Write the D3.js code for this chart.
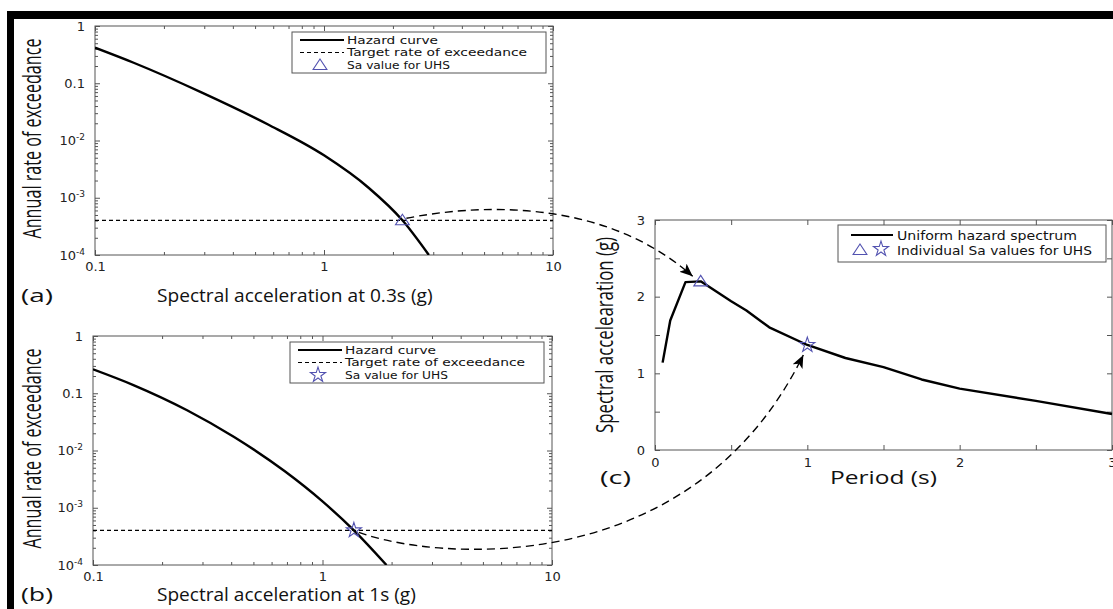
<!DOCTYPE html>
<html><head><meta charset="utf-8">
<script src="https://cdn.jsdelivr.net/npm/d3@7"></script>
<style>body{margin:0;background:#fff}svg{display:block}</style>
</head><body>
<svg id="chart" width="1113" height="609"></svg>
<script>
// ---- data ----
const saAt03 = [0.1, 0.1475, 0.29, 0.57, 1.0, 1.57, 2.2, 2.87];
const rateAt03 = [0.418, 0.228, 0.070, 0.019, 0.0055, 0.00148, 4.04e-4, 1e-4];
const saAt1 = [0.1, 0.15, 0.257, 0.412, 0.683, 1.0, 1.37, 1.9];
const rateAt1 = [0.262, 0.139, 0.0505, 0.0172, 0.00437, 0.00129, 4.04e-4, 1e-4];
const targetRate = 4.04e-4;
const uhsSa03 = 2.2, uhsSa1 = 1.37;
const uhsPeriod = [0.05, 0.1, 0.2, 0.3, 0.4, 0.5, 0.6, 0.75, 1.0, 1.25, 1.5, 1.75, 2.0, 2.5, 3.0];
const uhsSa = [1.14, 1.69, 2.19, 2.2, 2.07, 1.94, 1.82, 1.6, 1.37, 1.2, 1.08, 0.92, 0.8, 0.64, 0.47];
const logXTicks = [0.1, 1, 10];
const logXTickLabels = ["0.1", "1", "10"];
const logYTicks = [1e-4, 1e-3, 1e-2, 0.1, 1];
const logYTickLabels = [["10","-4"], ["10","-3"], ["10","-2"], ["0.1"], ["1"]];
const periodTicks = [0, 1, 2, 3];
const saTicks = [0, 1, 2, 3];
const legendAB = ["Hazard curve", "Target rate of exceedance", "Sa value for UHS"];
const legendC = ["Uniform hazard spectrum", "Individual Sa values for UHS"];

const svg = d3.select("#chart");
const AX = "#555", BLUE = "#5252b0";
const TICKFONT = "'DejaVu Sans', Verdana, sans-serif";
const LABFONT = "'Open Sans', 'DejaVu Sans', sans-serif";
const NARROW = "'Liberation Sans Narrow', 'Open Sans', sans-serif";
const legLenAB = [91, 180, 103];
const legLenC = [180, 195];

// black frame edges
svg.append("rect").attr("x", 7).attr("y", 11).attr("width", 1106).attr("height", 8).attr("fill", "#000");
svg.append("rect").attr("x", 7).attr("y", 11).attr("width", 7).attr("height", 598).attr("fill", "#000");

svg.append("defs").append("marker").attr("id", "ah")
  .attr("viewBox", "0 0 12 10").attr("refX", 12).attr("refY", 5)
  .attr("markerWidth", 13).attr("markerHeight", 11).attr("markerUnits", "userSpaceOnUse")
  .attr("orient", "auto")
  .append("path").attr("d", "M0,0 L12,5 L0,10 L3,5 Z").attr("fill", "#000");

function trianglePath(r) { return `M0,${-r} L${r*1.15},${r*0.75} L${-r*1.15},${r*0.75} Z`; }
const starPath = d3.symbol(d3.symbolStar, 70)();

function minorLog(lo, hi) {
  const out = [];
  for (let d = lo; d < hi * 0.999; d *= 10) for (let m = 2; m <= 9; m++) out.push(d * m);
  return out;
}

function hazardPanel(id, box, saArr, rateArr, markerType, xLabel, tag, labBase) {
  const {L, R, T, B} = box;
  const x = d3.scaleLog().domain([0.1, 10]).range([L, R]);
  const y = d3.scaleLog().domain([1e-4, 1]).range([B, T]);
  const g = svg.append("g");
  g.append("clipPath").attr("id", id).append("rect").attr("x", L).attr("y", T).attr("width", R - L).attr("height", B - T);
  g.append("rect").attr("x", L).attr("y", T).attr("width", R - L).attr("height", B - T).attr("fill", "#fff");

  const styleAxis = sel => { sel.select(".domain").remove(); sel.selectAll("line").attr("stroke", AX); };
  const minX = minorLog(0.1, 10), minY = minorLog(1e-4, 1);
  const bx = g.append("g").attr("transform", `translate(0,${B})`)
    .call(d3.axisBottom(x).tickValues(logXTicks).tickSize(-5).tickPadding(7).tickFormat((d, i) => logXTickLabels[i]));
  styleAxis(bx);
  bx.selectAll("text").attr("font-family", TICKFONT).attr("font-size", 13).attr("fill", "#222");
  styleAxis(g.append("g").attr("transform", `translate(0,${B})`).call(d3.axisBottom(x).tickValues(minX).tickSize(-3).tickFormat("")));
  styleAxis(g.append("g").attr("transform", `translate(0,${T})`).call(d3.axisTop(x).tickValues(logXTicks).tickSize(-5).tickFormat("")));
  styleAxis(g.append("g").attr("transform", `translate(0,${T})`).call(d3.axisTop(x).tickValues(minX).tickSize(-3).tickFormat("")));
  const ly = g.append("g").attr("transform", `translate(${L},0)`)
    .call(d3.axisLeft(y).tickValues(logYTicks).tickSize(-5).tickPadding(10).tickFormat(""));
  styleAxis(ly);
  ly.selectAll("text").each(function(d, i) {
    const t = d3.select(this).attr("font-family", TICKFONT).attr("font-size", 13).attr("fill", "#222");
    const lab = logYTickLabels[i];
    t.append("tspan").text(lab[0]);
    if (lab[1]) t.append("tspan").attr("dy", "-0.55em").attr("font-size", 9).text(lab[1]);
  });
  styleAxis(g.append("g").attr("transform", `translate(${L},0)`).call(d3.axisLeft(y).tickValues(minY).tickSize(-3).tickFormat("")));
  styleAxis(g.append("g").attr("transform", `translate(${R},0)`).call(d3.axisRight(y).tickValues(logYTicks).tickSize(-5).tickFormat("")));
  styleAxis(g.append("g").attr("transform", `translate(${R},0)`).call(d3.axisRight(y).tickValues(minY).tickSize(-3).tickFormat("")));
  g.append("rect").attr("x", L).attr("y", T).attr("width", R - L).attr("height", B - T)
    .attr("fill", "none").attr("stroke", AX).attr("stroke-width", 1);

  g.append("line").attr("x1", L).attr("x2", R).attr("y1", y(targetRate)).attr("y2", y(targetRate))
    .attr("stroke", "#000").attr("stroke-width", 1.2).attr("stroke-dasharray", "4,3");
  const pts = saArr.map((s, i) => [s, rateArr[i]]);
  g.append("path").datum(pts).attr("clip-path", `url(#${id})`)
    .attr("d", d3.line().x(d => x(d[0])).y(d => y(d[1])).curve(d3.curveMonotoneX))
    .attr("fill", "none").attr("stroke", "#000").attr("stroke-width", 2.4);
  const uhsVal = markerType === "tri" ? uhsSa03 : uhsSa1;
  const mx = x(uhsVal), my = y(targetRate);
  g.append("path").attr("transform", `translate(${mx},${my})`)
    .attr("d", markerType === "tri" ? trianglePath(6) : starPath)
    .attr("fill", "none").attr("stroke", BLUE).attr("stroke-width", 1.1);

  // legend
  const lg = g.append("g").attr("transform", `translate(${L + 197},${T + 6})`);
  lg.append("rect").attr("width", 254).attr("height", 41).attr("fill", "#fff").attr("stroke", AX);
  const rows = [8, 20.5, 33];
  lg.append("line").attr("x1", 8).attr("x2", 52).attr("y1", rows[0]).attr("y2", rows[0]).attr("stroke", "#000").attr("stroke-width", 2);
  lg.append("line").attr("x1", 8).attr("x2", 52).attr("y1", rows[1]).attr("y2", rows[1]).attr("stroke", "#000").attr("stroke-width", 1.2).attr("stroke-dasharray", "4,3");
  lg.append("path").attr("transform", `translate(28,${rows[2]})`)
    .attr("d", markerType === "tri" ? trianglePath(6) : starPath)
    .attr("fill", "none").attr("stroke", BLUE).attr("stroke-width", 1.1);
  legendAB.forEach((t, i) => lg.append("text").attr("x", 55).attr("y", rows[i]).attr("dy", "0.36em")
    .attr("font-family", TICKFONT).attr("font-size", 10.5).attr("textLength", legLenAB[i]).attr("lengthAdjust", "spacingAndGlyphs")
    .attr("fill", "#111").text(t));

  svg.append("text").attr("transform", `translate(41,${(T + B) / 2 - 2}) rotate(-90)`)
    .attr("text-anchor", "middle").attr("font-family", NARROW).attr("font-size", 25)
    .attr("textLength", 200).attr("lengthAdjust", "spacingAndGlyphs").attr("fill", "#111")
    .text("Annual rate of exceedance");
  svg.append("text").attr("x", 157).attr("y", labBase).attr("font-family", LABFONT).attr("font-size", 18)
    .attr("textLength", xLabel.length * 8.35).attr("lengthAdjust", "spacingAndGlyphs").attr("fill", "#111").text(xLabel);
  svg.append("text").attr("x", 21).attr("y", labBase).attr("font-family", LABFONT).attr("font-size", 18)
    .attr("textLength", 32).attr("lengthAdjust", "spacingAndGlyphs").attr("fill", "#111").text(tag);
  return {x, y, mx, my};
}

const pa = hazardPanel("clipA", {L: 95, R: 553, T: 26, B: 255}, saAt03, rateAt03, "tri", "Spectral acceleration at 0.3s (g)", "(a)", 302);
const pb = hazardPanel("clipB", {L: 93, R: 552, T: 336, B: 565}, saAt1, rateAt1, "star", "Spectral acceleration at 1s (g)", "(b)", 601);

// ---- panel c ----
const C = {L: 655, R: 1112, T: 220, B: 450};
const xc = d3.scaleLinear().domain([0, 3]).range([C.L, C.R]);
const yc = d3.scaleLinear().domain([0, 3]).range([C.B, C.T]);
const gc = svg.append("g");
const halfTicks = d3.range(0, 3.01, 0.5);
const st = sel => { sel.select(".domain").remove(); sel.selectAll("line").attr("stroke", AX); sel.selectAll("text").attr("font-family", TICKFONT).attr("font-size", 13).attr("fill", "#222"); };
st(gc.append("g").attr("transform", `translate(0,${C.B})`).call(d3.axisBottom(xc).tickValues(halfTicks).tickSize(-5).tickPadding(8).tickFormat(d => periodTicks.includes(d) ? d3.format("d")(d) : "")));
st(gc.append("g").attr("transform", `translate(0,${C.T})`).call(d3.axisTop(xc).tickValues(halfTicks).tickSize(-5).tickFormat("")));
st(gc.append("g").attr("transform", `translate(${C.L},0)`).call(d3.axisLeft(yc).tickValues(halfTicks).tickSize(-5).tickPadding(10).tickFormat(d => saTicks.includes(d) ? d3.format("d")(d) : "")));
st(gc.append("g").attr("transform", `translate(${C.R},0)`).call(d3.axisRight(yc).tickValues(halfTicks).tickSize(-5).tickFormat("")));
gc.append("rect").attr("x", C.L).attr("y", C.T).attr("width", C.R - C.L).attr("height", C.B - C.T).attr("fill", "none").attr("stroke", AX);
gc.append("path").datum(uhsPeriod.map((p, i) => [p, uhsSa[i]]))
  .attr("d", d3.line().x(d => xc(d[0])).y(d => yc(d[1])))
  .attr("fill", "none").attr("stroke", "#000").attr("stroke-width", 2.4).attr("stroke-linejoin", "round");
const triC = [xc(0.3), yc(uhsSa03)], starC = [xc(1.0), yc(uhsSa1)];
gc.append("path").attr("transform", `translate(${triC})`).attr("d", trianglePath(6)).attr("fill", "none").attr("stroke", BLUE).attr("stroke-width", 1.1);
gc.append("path").attr("transform", `translate(${starC})`).attr("d", starPath).attr("fill", "none").attr("stroke", BLUE).attr("stroke-width", 1.1);
const lc = gc.append("g").attr("transform", `translate(838,225)`);
lc.append("rect").attr("width", 268).attr("height", 37).attr("fill", "#fff").attr("stroke", AX);
lc.append("line").attr("x1", 13).attr("x2", 55).attr("y1", 10).attr("y2", 10).attr("stroke", "#000").attr("stroke-width", 2);
lc.append("path").attr("transform", "translate(22,25)").attr("d", trianglePath(6)).attr("fill", "none").attr("stroke", BLUE).attr("stroke-width", 1.1);
lc.append("path").attr("transform", "translate(43,24)").attr("d", starPath).attr("fill", "none").attr("stroke", BLUE).attr("stroke-width", 1.1);
legendC.forEach((t, i) => lc.append("text").attr("x", 59).attr("y", 10 + i * 15).attr("dy", "0.36em")
  .attr("font-family", TICKFONT).attr("font-size", 12.5).attr("textLength", legLenC[i]).attr("lengthAdjust", "spacingAndGlyphs")
  .attr("fill", "#111").text(t));
svg.append("text").attr("transform", `translate(613,${(C.T + C.B) / 2}) rotate(-90)`)
  .attr("text-anchor", "middle").attr("font-family", NARROW).attr("font-size", 24)
  .attr("textLength", 196).attr("lengthAdjust", "spacingAndGlyphs").attr("fill", "#111").text("Spectral accelearation (g)");
svg.append("text").attr("x", 830).attr("y", 484).attr("font-family", LABFONT).attr("font-size", 19)
  .attr("textLength", 107).attr("lengthAdjust", "spacingAndGlyphs").attr("fill", "#111").text("Period (s)");
svg.append("text").attr("x", 600).attr("y", 484).attr("font-family", LABFONT).attr("font-size", 19)
  .attr("textLength", 31).attr("lengthAdjust", "spacingAndGlyphs").attr("fill", "#111").text("(c)");

// ---- connecting arrows ----
function arrow(p0, c1, c2, p3) {
  const p = d3.path();
  p.moveTo(p0[0], p0[1]);
  p.bezierCurveTo(c1[0], c1[1], c2[0], c2[1], p3[0], p3[1]);
  svg.append("path").attr("d", p.toString()).attr("fill", "none").attr("stroke", "#000")
    .attr("stroke-width", 1.4).attr("stroke-dasharray", "8,5").attr("marker-end", "url(#ah)");
}
const a0 = [pa.mx + 4, pa.my - 2];
arrow(a0, [a0[0] + 65, a0[1] - 13], [a0[0] + 195, a0[1] - 23], [triC[0] - 8, triC[1] - 5]);
const b0 = [pb.mx + 5, pb.my + 2];
arrow(b0, [b0[0] + 72, b0[1] + 27], [b0[0] + 332, b0[1] + 52], [starC[0] - 4, starC[1] + 10]);
</script>
</body></html>
